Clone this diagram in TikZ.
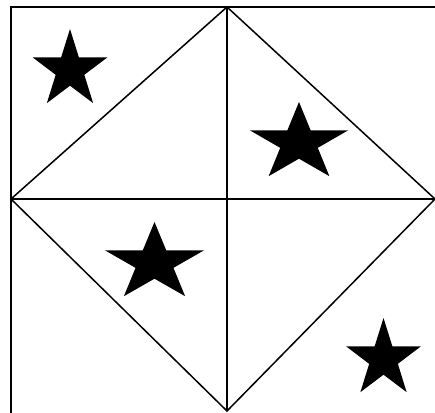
\documentclass[tikz,border=0pt]{standalone}
\usepackage{xcolor}
\usepackage{tikz}
\begin{document}
\begin{tikzpicture}[
  x=1pt, y=1pt,
  edge/.style={line width=1.5pt, draw=black, line join=miter},
  bigstar/.pic={
    \fill[black] (90:41) -- (126:15.7) -- (162:41) -- (198:15.7) -- (234:41)
      -- (270:15.7) -- (306:41) -- (342:15.7) -- (18:41) -- (54:15.7) -- cycle;
  }
]
\useasboundingbox (0,0) rectangle (435,412);
\clip (0,0) rectangle (435,412);
\fill[white] (0,0) rectangle (435,412);

% frame (right and bottom sides fall outside the picture)
\coordinate (frameSW) at (11,-10);
\coordinate (frameNE) at (450,405);
\draw[edge] (frameSW) rectangle (frameNE);

% corners of the diamond and the centre
\coordinate (top)    at (227,405);
\coordinate (left)   at (11,213);
\coordinate (bottom) at (227,1);
\coordinate (right)  at (435,213);

\draw[edge] (top) -- (bottom);
\draw[edge] (left) -- (right);
\draw[edge] (top) -- (left) -- (bottom) -- (right) -- cycle;

% stars
\pic[xscale=0.96] (starA) at (70,342)    {bigstar};
\pic[xscale=1.26] (starB) at (299,269)   {bigstar};
\pic[xscale=1.27] (starC) at (154.5,149) {bigstar};
\pic[xscale=0.96] (starD) at (383.5,53)  {bigstar};
\end{tikzpicture}
\end{document}
